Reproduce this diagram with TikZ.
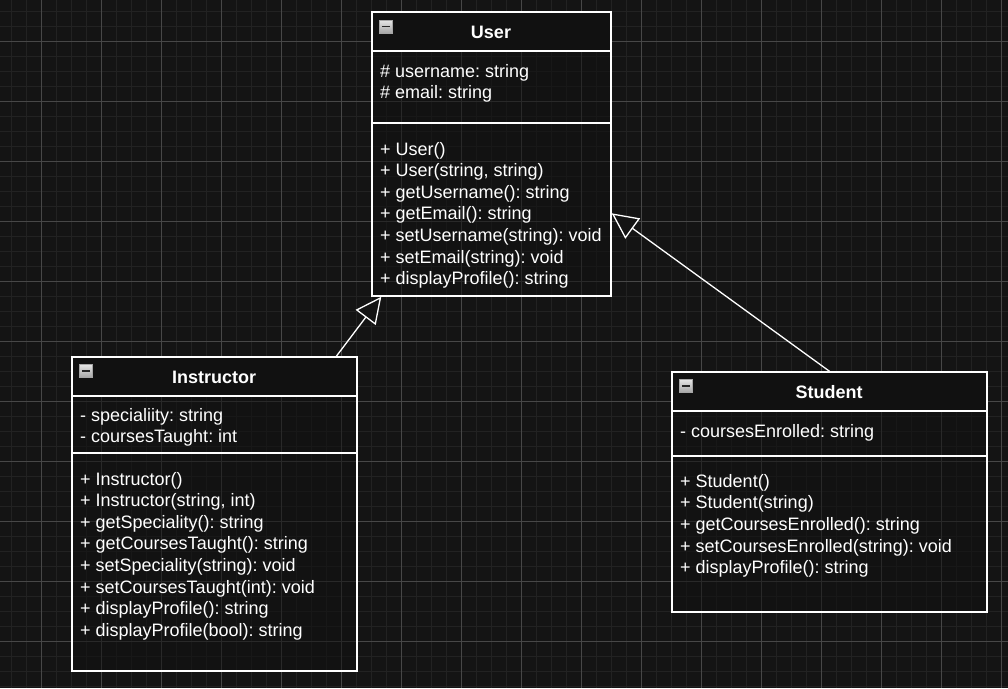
\documentclass[tikz,border=0pt]{standalone}
\usepackage{fontspec}
\setmainfont{Liberation Sans}
\usetikzlibrary{arrows.meta,calc}
\definecolor{bg}{HTML}{141414}
\definecolor{gridminor}{HTML}{222222}
\definecolor{gridmajor}{HTML}{474747}
\definecolor{boxfill}{HTML}{111111}
\definecolor{ink}{HTML}{FFFFFF}
\tikzset{
  classbox/.style={draw=ink, line width=1.4pt, fill=boxfill, fill opacity=0.55, draw opacity=1, rectangle, inner sep=0pt},
  header/.style={fill=boxfill},
  sep/.style={draw=ink, line width=1.4pt},
  title/.style={text=ink, font=\fontsize{18}{20}\selectfont\bfseries, inner sep=0pt},
  member/.style={anchor=west, text=ink, inner sep=0pt, text height=13pt, text depth=4pt, font=\fontsize{18}{21}\selectfont},
  inherit/.style={draw=ink, line width=1.3pt, -{Triangle[open, fill=bg, length=26pt, width=25pt, line width=1.3pt]}},
  collapse/.style={draw=gray!70!white, top color=gray!20, bottom color=gray!70, line width=0.8pt, inner sep=0pt, minimum size=13pt, rectangle}
}
\newcommand{\minusbar}[1]{\draw[gray!30!black, line width=1.8pt] ($(#1.west)+(2.8,0)$) -- ($(#1.east)+(-2.8,0)$);}
\begin{document}
\frenchspacing
\begin{tikzpicture}[x=1pt, y=-1pt]
\useasboundingbox (0,0) rectangle (1008,688);
\fill[bg] (0,0) rectangle (1008,688);
% background grid
\foreach \g in {11.25,26.25,...,1008} \draw[gridminor, line width=1.1pt] (\g,0) -- (\g,688);
\foreach \g in {11.25,26.25,...,688} \draw[gridminor, line width=1.1pt] (0,\g) -- (1008,\g);
\foreach \g in {41.25,101.25,...,1008} \draw[gridmajor, line width=0.8pt] (\g,0) -- (\g,688);
\foreach \g in {41.25,101.25,...,688} \draw[gridmajor, line width=0.8pt] (0,\g) -- (1008,\g);

% ---------- User ----------
\path[header] (372,12) rectangle (611,51);
\node[classbox, minimum width=239pt, minimum height=284pt] (user) at (491.5,154) {};
\draw[sep] (372,51) -- (611,51);
\draw[sep] (372,123) -- (611,123);
\node[collapse] (userbtn) at (386,26.5) {};
\minusbar{userbtn}
\node[title] (usertitle) at (491,32) {User};
\foreach \t [count=\i] in {{\# username: string},{\# email: string}}
  \node[member] (ua\i) at (380,{72.5+(\i-1)*21.8}) {\t};
\foreach \t [count=\i] in {{+ User()},{+ User(string, string)},{+ getUsername(): string},{+ getEmail(): string},{+ setUsername(string): void},{+ setEmail(string): void},{+ displayProfile(): string}}
  \node[member] (um\i) at (380,{150.5+(\i-1)*21.6}) {\t};

% ---------- Instructor ----------
\path[header] (72,357) rectangle (357,396);
\node[classbox, minimum width=285pt, minimum height=314pt] (instr) at (214.5,514) {};
\draw[sep] (72,396) -- (357,396);
\draw[sep] (72,453) -- (357,453);
\node[collapse] (instrbtn) at (86,371) {};
\minusbar{instrbtn}
\node[title] (instrtitle) at (214,377) {Instructor};
\foreach \t [count=\i] in {{- specialiity: string},{- coursesTaught: int}}
  \node[member] (ia\i) at (80,{416.5+(\i-1)*21.8}) {\t};
\foreach \t [count=\i] in {{+ Instructor()},{+ Instructor(string, int)},{+ getSpeciality(): string},{+ getCoursesTaught(): string},{+ setSpeciality(string): void},{+ setCoursesTaught(int): void},{+ displayProfile(): string},{+ displayProfile(bool): string}}
  \node[member] (im\i) at (80,{480.5+(\i-1)*21.6}) {\t};

% ---------- Student ----------
\path[header] (672,372) rectangle (987,411);
\node[classbox, minimum width=315pt, minimum height=240pt] (student) at (829.5,492) {};
\draw[sep] (672,411) -- (987,411);
\draw[sep] (672,456) -- (987,456);
\node[collapse] (studbtn) at (686,386) {};
\minusbar{studbtn}
\node[title] (studtitle) at (829,392) {Student};
\node[member] (sa1) at (680,432.5) {- coursesEnrolled: string};
\foreach \t [count=\i] in {{+ Student()},{+ Student(string)},{+ getCoursesEnrolled(): string},{+ setCoursesEnrolled(string): void},{+ displayProfile(): string}}
  \node[member] (sm\i) at (680,{482.5+(\i-1)*21.7}) {\t};

% ---------- generalisation ----------
\draw[inherit] ($(instr.north west)+(265,0)$) -- ($(user.south west)+(10,0)$);
\draw[inherit] (student.north) -- ($(user.north east)+(0,202)$);
\end{tikzpicture}
\end{document}
